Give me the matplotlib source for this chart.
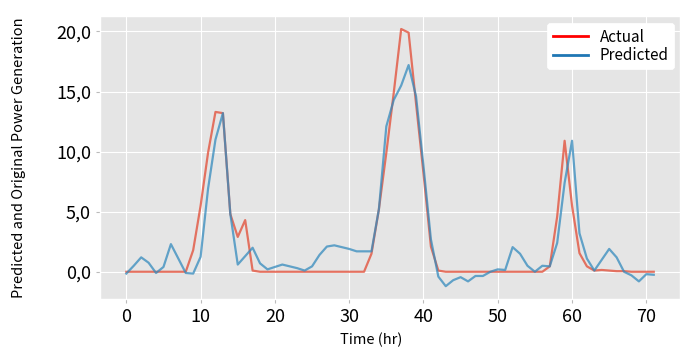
import matplotlib
matplotlib.use('Agg')
import matplotlib.pyplot as plt
from matplotlib.lines import Line2D
from matplotlib.ticker import FuncFormatter
import numpy as np

plt.style.use('ggplot')
plt.rcParams['font.family'] = ['Noto Sans CJK KR', 'DejaVu Sans']

# hourly values
actual = [0, 0, 0, 0, 0, 0, 0, 0, 0, 1.8, 5.5, 9.9, 13.3, 13.2, 4.8, 2.9, 4.3, 0.1,
          0, 0, 0, 0, 0, 0, 0, 0, 0, 0, 0, 0, 0, 0, 0, 1.5, 5.2, 9.9, 14.9, 20.2,
          19.9, 14.0, 8.2, 2.1, 0.1, 0, 0, 0, 0, 0, 0, 0, 0, 0, 0, 0, 0, 0, 0, 0.45,
          4.6, 10.9, 5.5, 1.55, 0.45, 0.1, 0.15, 0.1, 0.05, 0.05, 0, 0, 0, 0]
predicted = [-0.15, 0.5, 1.2, 0.75, -0.1, 0.4, 2.3, 1.1, -0.1, -0.15, 1.25, 6.9,
             11.0, 13.2, 4.8, 0.6, 1.3, 2.0, 0.7, 0.2, 0.4, 0.6, 0.45, 0.3, 0.1,
             0.45, 1.4, 2.1, 2.2, 2.05, 1.9, 1.7, 1.7, 1.7, 5.2, 12.1, 14.3, 15.5,
             17.2, 14.6, 8.8, 2.7, -0.4, -1.2, -0.7, -0.45, -0.8, -0.35, -0.35, 0,
             0.2, 0.15, 2.05, 1.5, 0.5, 0, 0.5, 0.45, 2.4, 7.4, 10.9, 3.2, 1.1, 0.1,
             1.0, 1.9, 1.2, 0, -0.3, -0.8, -0.2, -0.25]
hours = np.arange(len(actual))

fig, ax = plt.subplots(figsize=(6.99, 3.59), dpi=100)
fig.patch.set_facecolor('white')

ax.plot(hours, actual, color='#E24A33', alpha=0.75, lw=1.6)
ax.plot(hours, predicted, color='#348ABD', alpha=0.75, lw=1.6)

ax.yaxis.set_major_formatter(FuncFormatter(lambda v, p: ('%.1f' % v).replace('.', ',')))
ax.tick_params(axis='both', labelsize=13, colors='#bbbbbb', labelcolor='black', length=3)
ax.set_xlabel('Time (hr)', fontsize=10.5, color='black')
ax.xaxis.set_label_coords(0.467, -0.12)
ax.set_ylabel('Predicted and Original Power Generation', fontsize=10.5, color='black')
ax.yaxis.set_label_coords(-0.128, 0.5)

handles = [Line2D([], [], color='red', lw=2), Line2D([], [], color='#1f77b4', lw=2)]
leg = ax.legend(handles, ['Actual', 'Predicted'], loc='upper right', fontsize=11,
                facecolor='white', framealpha=1, handlelength=2.3, borderpad=0.35,
                labelspacing=0.1, borderaxespad=0, bbox_to_anchor=(0.99, 0.975))
leg.get_frame().set_edgecolor('white')

plt.subplots_adjust(left=0.143, right=0.973, top=0.955, bottom=0.167)
plt.savefig('out.png', dpi=100)
